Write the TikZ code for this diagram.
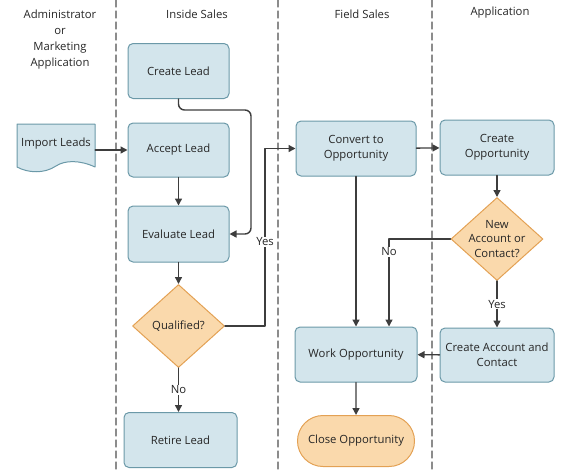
\documentclass[tikz,border=0pt]{standalone}
\usepackage{fontspec}
\setmainfont{Open Sans}
\usetikzlibrary{arrows.meta,shapes.geometric,shapes.misc}
\definecolor{boxblue}{rgb}{0.827,0.898,0.925}
\definecolor{boxedge}{rgb}{0.42,0.60,0.66}
\definecolor{diafill}{rgb}{0.980,0.851,0.675}
\definecolor{diaedge}{rgb}{0.89,0.63,0.33}
\definecolor{linegray}{rgb}{0.24,0.24,0.24}
\definecolor{lanegray}{rgb}{0.55,0.55,0.55}
\definecolor{textgray}{rgb}{0.15,0.15,0.15}

\begin{document}
\begin{tikzpicture}[line cap=round,line join=round,>={Triangle[length=7pt,width=7pt]},x=1pt,y=-1pt,
  font=\fontsize{11.3}{14.8}\selectfont,text=textgray,
  task/.style={draw=boxedge,fill=boxblue,line width=1pt,rounded corners=5pt,align=center,inner sep=2pt,minimum height=55pt},
  decision/.style={diamond,draw=diaedge,fill=diafill,line width=1pt,inner sep=0pt,minimum width=92pt,minimum height=83pt,align=center},
  finish/.style={rounded rectangle,draw=diaedge,fill=diafill,line width=1pt,minimum width=121pt,minimum height=51pt,inner xsep=2pt},
  flow/.style={->,draw=linegray,line width=1.4pt},
  answer/.style={fill=white,inner sep=1pt},
  lane/.style={draw=lanegray,line width=1.2pt,dash pattern=on 7pt off 4pt}]
\useasboundingbox (0,0) rectangle (561,469);
%% swimlanes
\draw [lane] (116,0) -- (116,469);
\draw [lane] (278,0) -- (278,469);
\draw [lane] (432,0) -- (432,469);
\node [align=center,font=\fontsize{11.3}{16}\selectfont] (hadmin) at (60,39.5) {Administrator\\or\\Marketing\\Application};
\node (hinside) at (197,14) {Inside Sales};
\node (hfield) at (362,14) {Field Sales};
\node (happ) at (500,13) {Application};
%% import document
\draw [draw=boxedge,fill=boxblue,line width=1pt] (17,124) -- (95,124) -- (95,167) .. controls (80,160) and (65,160) .. (56,166) .. controls (44,174) and (28,173) .. (17,167) -- cycle;
\node [minimum width=78pt] (imp) at (56,144) {Import Leads};
%% inside sales
\node [task,minimum width=101pt] (create) at (178.5,71) {Create Lead};
\node [task,minimum width=101pt,minimum height=54pt] (accept) at (178.5,150) {Accept Lead};
\node [task,minimum width=101pt,minimum height=56pt] (evaluate) at (178.5,234) {Evaluate Lead};
\node [decision] (qual) at (178.5,326) {Qualified?};
\node [task,minimum width=113pt] (retire) at (180.5,440) {Retire Lead};
%% field sales
\node [task,minimum width=120pt] (convert) at (356,148.5) {Convert to\\Opportunity};
\node [task,minimum width=122pt] (work) at (356,354.5) {Work Opportunity};
\node [finish] (close) at (356,441) {Close Opportunity};
%% application
\node [task,minimum width=114pt] (createopp) at (497,147.5) {Create\\Opportunity};
\node [decision,label={[align=center]center:New\\Account or\\Contact?}] (newacct) at (497,239) {};
\node [task,minimum width=114pt,minimum height=54pt] (acct) at (497,355) {Create Account and\\Contact};
%% connectors
\coordinate (cbend) at (251,110);
\coordinate (yesbend) at (265,148.5);
\coordinate (nobend) at (389,239);
\draw [flow] (imp.east |- accept.west) -- (accept.west);
\draw [flow,rounded corners=6pt] (create.south) |- (cbend) |- (evaluate.east);
\draw [flow] (accept) -- (evaluate);
\draw [flow] (evaluate) -- (qual);
\draw [flow] (qual.east) -| (yesbend) -- (convert.west);
\node [answer] (yesq) at (265,242) {Yes};
\draw [flow] (qual.south) -- node [answer] (noq) {No} (qual.south |- retire.north);
\draw [flow] (convert) -- (createopp);
\draw [flow] (createopp) -- (newacct);
\draw [flow] (convert) -- (work);
\draw [flow] (newacct.west) -- (nobend) -- (nobend |- work.north);
\node [answer] (non) at (389,252) {No};
\draw [flow] (newacct) -- node [answer] (yesn) {Yes} (acct);
\draw [flow] (acct) -- (work);
\draw [flow] (work) -- (close);
\end{tikzpicture}
\end{document}
